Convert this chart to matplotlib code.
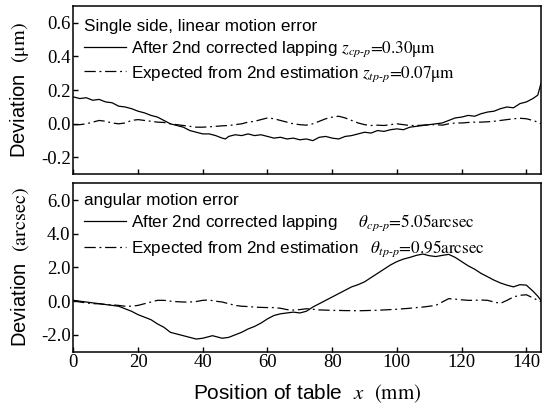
import matplotlib.pyplot as plt

plt.rcParams['font.family'] = 'Liberation Serif'
plt.rcParams['mathtext.fontset'] = 'stix'

# linear motion error (um)
x_lin = [0, 2, 4, 6, 8, 10, 12, 14, 16, 18, 20, 22, 24, 26, 28, 30, 32, 34, 36, 38,
         40, 42, 44, 46, 47, 48, 50, 52, 54, 56, 58, 60, 62, 64, 66, 68, 70, 72, 74, 76,
         78, 80, 82, 84, 86, 88, 90, 92, 94, 96, 98, 100, 102, 104, 106, 108, 110, 112,
         114, 116, 118, 120, 122, 124, 126, 128, 130, 132, 134, 136, 138, 140, 142,
         143.5, 144.5]
lin_corr = [0.16, 0.15, 0.155, 0.14, 0.145, 0.13, 0.125, 0.105, 0.10, 0.09, 0.075, 0.065,
            0.05, 0.04, 0.02, 0.0, -0.01, -0.02, -0.04, -0.05, -0.06, -0.06, -0.07, -0.085,
            -0.09, -0.075, -0.065, -0.07, -0.06, -0.07, -0.065, -0.075, -0.085, -0.08,
            -0.09, -0.085, -0.095, -0.09, -0.1, -0.08, -0.075, -0.085, -0.09, -0.075,
            -0.07, -0.06, -0.05, -0.055, -0.04, -0.045, -0.035, -0.03, -0.035, -0.02,
            -0.015, -0.01, -0.005, 0.0, 0.005, 0.02, 0.035, 0.04, 0.05, 0.045, 0.06, 0.07,
            0.075, 0.09, 0.10, 0.095, 0.12, 0.13, 0.15, 0.17, 0.24]
lin_exp = [-0.005, -0.005, 0.0, 0.01, 0.02, 0.015, 0.005, 0.0, 0.005, 0.02, 0.025, 0.02,
           0.015, 0.01, 0.008, 0.0, -0.005, -0.01, -0.015, -0.02, -0.02, -0.018, -0.015,
           -0.012, -0.011, -0.01, -0.005, 0.0, 0.01, 0.015, 0.025, 0.035, 0.03, 0.02, 0.01,
           0.0, -0.005, -0.008, 0.0, 0.015, 0.03, 0.04, 0.045, 0.035, 0.02, 0.005, -0.005,
           -0.01, -0.008, -0.01, -0.005, 0.0, -0.005, -0.01, -0.01, -0.008, -0.005, -0.005,
           -0.008, 0.0, 0.005, 0.005, 0.008, 0.01, 0.01, 0.012, 0.015, 0.02, 0.025, 0.03,
           0.033, 0.03, 0.02, 0.01, 0.0]

# angular motion error (arcsec)
x_ang = [0, 2, 4, 6, 8, 10, 12, 14, 16, 18, 20, 22, 24, 26, 28, 30, 32, 34, 36, 38,
         40, 42, 43, 44, 46, 48, 50, 52, 54, 56, 58, 60, 62, 64, 66, 68, 70, 72, 74, 76,
         78, 80, 82, 84, 86, 88, 90, 92, 94, 96, 98, 100, 102, 104, 106, 108, 110, 112,
         114, 116, 118, 120, 122, 124, 126, 128, 130, 132, 134, 136, 138, 140, 142,
         143.5, 144.5]
ang_corr = [0.05, 0.0, -0.05, -0.1, -0.15, -0.2, -0.25, -0.3, -0.45, -0.6, -0.8, -0.95,
            -1.1, -1.35, -1.55, -1.85, -1.95, -2.05, -2.15, -2.25, -2.2, -2.1, -2.05, -2.1,
            -2.2, -2.15, -2.0, -1.85, -1.65, -1.5, -1.3, -1.05, -0.85, -0.75, -0.7, -0.65,
            -0.7, -0.6, -0.35, -0.15, 0.05, 0.25, 0.45, 0.65, 0.85, 0.98, 1.15, 1.4, 1.65,
            1.9, 2.15, 2.35, 2.5, 2.6, 2.72, 2.8, 2.7, 2.65, 2.72, 2.78, 2.6, 2.35, 2.1,
            1.9, 1.65, 1.45, 1.25, 1.08, 0.95, 0.85, 0.98, 0.95, 0.6, 0.3, 0.05]
ang_exp = [0.05, -0.05, -0.1, -0.15, -0.15, -0.2, -0.22, -0.25, -0.3, -0.3, -0.25, -0.15,
           -0.05, 0.05, 0.05, 0.0, -0.03, -0.05, -0.05, -0.02, 0.05, 0.07, 0.03, 0.0,
           -0.05, -0.15, -0.25, -0.3, -0.32, -0.35, -0.37, -0.38, -0.38, -0.42, -0.5,
           -0.53, -0.5, -0.45, -0.48, -0.52, -0.53, -0.55, -0.55, -0.56, -0.56, -0.57,
           -0.56, -0.55, -0.54, -0.52, -0.5, -0.48, -0.45, -0.42, -0.38, -0.35, -0.3,
           -0.25, -0.05, 0.15, 0.12, 0.08, 0.05, 0.05, 0.07, 0.05, -0.05, -0.13, 0.05,
           0.25, 0.35, 0.38, 0.2, 0.05, -0.03]

fig = plt.figure(figsize=(5.52, 4.11), dpi=100)
ax1 = fig.add_axes([0.1328, 0.5759, 0.8472, 0.4095])
ax2 = fig.add_axes([0.1328, 0.1443, 0.8472, 0.4097])

dd = (9, 3, 1.5, 3)

ax1.plot(x_lin, lin_corr, color='black', lw=0.9,
         label=r'After 2nd corrected lapping $z_{cp\text{-}p}\text{=0.30μm}$')
ax1.plot(x_lin, lin_exp, color='black', lw=0.9, dashes=dd,
         label=r'Expected from 2nd estimation $z_{tp\text{-}p}\text{=0.07μm}$')
ax2.plot(x_ang, ang_corr, color='black', lw=0.9,
         label=r'After 2nd corrected lapping  $\quad\theta_{cp\text{-}p}\text{=5.05arcsec}$')
ax2.plot(x_ang, ang_exp, color='black', lw=0.9, dashes=dd,
         label=r'Expected from 2nd estimation  $\;\theta_{tp\text{-}p}\text{=0.95arcsec}$')

ax1.set_ylim(-0.3, 0.7)
ax1.set_yticks([-0.2, 0.0, 0.2, 0.4, 0.6])
ax1.set_yticklabels(['-0.2', '0.0', '0.2', '0.4', '0.6'])
ax2.set_ylim(-3, 7)
ax2.set_yticks([-2, 0, 2, 4, 6])
ax2.set_yticklabels(['-2.0', '0.0', '2.0', '4.0', '6.0'])

for ax in (ax1, ax2):
    ax.set_xlim(0, 144.5)
    ax.set_xticks([0, 20, 40, 60, 80, 100, 120, 140])
    ax.tick_params(direction='in', length=3.5, width=1, labelsize=13.5, pad=2)
    for s in ax.spines.values():
        s.set_linewidth(1.1)
ax1.tick_params(labelbottom=False)

sans = {'family': 'Liberation Sans', 'size': 12.3}
ax1.legend(loc='upper left', bbox_to_anchor=(0, 0.982), frameon=False, prop=sans,
           handlelength=2.5, title='Single side, linear motion error',
           title_fontproperties=sans, alignment='left', borderaxespad=0.3,
           handletextpad=0.3, labelspacing=0.3, borderpad=0.3)
ax2.legend(loc='upper left', bbox_to_anchor=(0, 1.005), frameon=False, prop=sans,
           handlelength=2.5, title='angular motion error',
           title_fontproperties=sans, alignment='left', borderaxespad=0.3,
           handletextpad=0.3, labelspacing=0.3, borderpad=0.3)

ax1.set_ylabel(r'Deviation  $\mathrm{(\mu m)}$', fontsize=14.5,
               fontfamily='Liberation Sans', labelpad=7)
ax2.set_ylabel(r'Deviation  $\mathrm{(arcsec)}$', fontsize=14.5,
               fontfamily='Liberation Sans', labelpad=7)
ax2.set_xlabel(r'Position of table  $x$  $\mathrm{(mm)}$', fontsize=15,
               fontfamily='Liberation Sans', labelpad=8)

fig.savefig('out.png', dpi=100)
